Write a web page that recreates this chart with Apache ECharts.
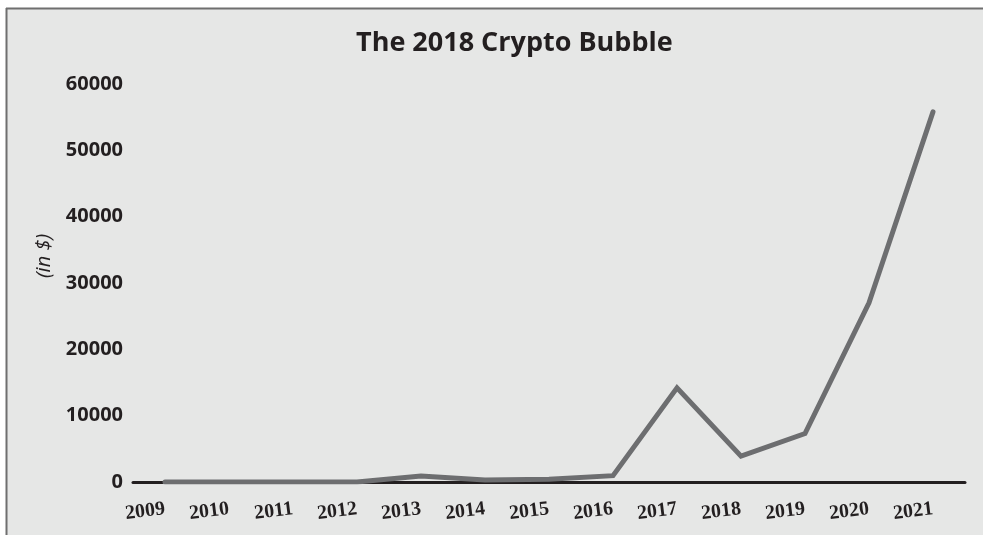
<!DOCTYPE html>
<html>
<head>
<meta charset="utf-8">
<script src="https://cdn.jsdelivr.net/npm/echarts@6/dist/echarts.min.js"></script>
<style>
html,body{margin:0;padding:0;background:#fff;}
#chart{width:983px;height:535px;}
</style>
</head>
<body>
<div id="chart"></div>
<script>
const years = ['2009','2010','2011','2012','2013','2014','2015','2016','2017','2018','2019','2020','2021'];
const prices = [0, 0, 5, 13, 900, 320, 430, 960, 14200, 3900, 7300, 27000, 55800];
const yTicks = [0, 10000, 20000, 30000, 40000, 50000, 60000];
const chartTitle = 'The 2018 Crypto Bubble';
const yAxisName = '(in $)';

const chart = echarts.init(document.getElementById('chart'), null, {renderer: 'canvas'});
chart.setOption({
  backgroundColor: '#ffffff',
  animation: false,
  graphic: [
    {type: 'rect', z: -10, silent: true, shape: {x: 7, y: 9, width: 1100, height: 700}, style: {fill: '#e6e7e6', stroke: null, lineWidth: 0}},
    {type: 'line', z: -5, silent: true, shape: {x1: 6.5, y1: 8, x2: 6.5, y2: 700}, style: {stroke: '#6f6f6f', lineWidth: 2}},
    {type: 'line', z: -5, silent: true, shape: {x1: 6, y1: 8.5, x2: 1100, y2: 8.5}, style: {stroke: '#6f6f6f', lineWidth: 2}}
  ],
  title: {
    text: chartTitle,
    left: 351,
    top: 25,
    textStyle: {fontFamily: 'Open Sans', fontWeight: 'bold', fontSize: 27, color: '#231f20'}
  },
  grid: {left: 133, right: 18, top: 84, bottom: 53, containLabel: false},
  xAxis: {
    type: 'category',
    data: years,
    boundaryGap: true,
    axisLine: {show: true, lineStyle: {color: '#231f20', width: 3}},
    axisTick: {show: false},
    axisLabel: {
      rotate: 7,
      margin: 27,
      fontFamily: 'Liberation Serif',
      fontWeight: 'bold',
      fontSize: 20,
      color: '#231f20'
    },
    splitLine: {show: false}
  },
  yAxis: {
    type: 'value',
    min: yTicks[0],
    max: yTicks[yTicks.length - 1],
    interval: 10000,
    name: yAxisName,
    nameLocation: 'middle',
    nameGap: 79,
    nameRotate: 90,
    nameTextStyle: {fontFamily: 'Open Sans', fontStyle: 'italic', fontSize: 20, color: '#231f20', padding: [0, 0, 0, 54]},
    axisLine: {show: false},
    axisTick: {show: false},
    splitLine: {show: false},
    axisLabel: {
      margin: 10,
      formatter: function (v) { return String(v); },
      fontFamily: 'Open Sans',
      fontWeight: 'bold',
      fontSize: 20,
      color: '#231f20'
    }
  },
  series: [{
    type: 'line',
    data: prices,
    showSymbol: false,
    symbol: 'none',
    lineStyle: {color: '#6d6e70', width: 5, cap: 'round', join: 'miter'},
    z: 3
  }]
});
</script>
</body>
</html>
